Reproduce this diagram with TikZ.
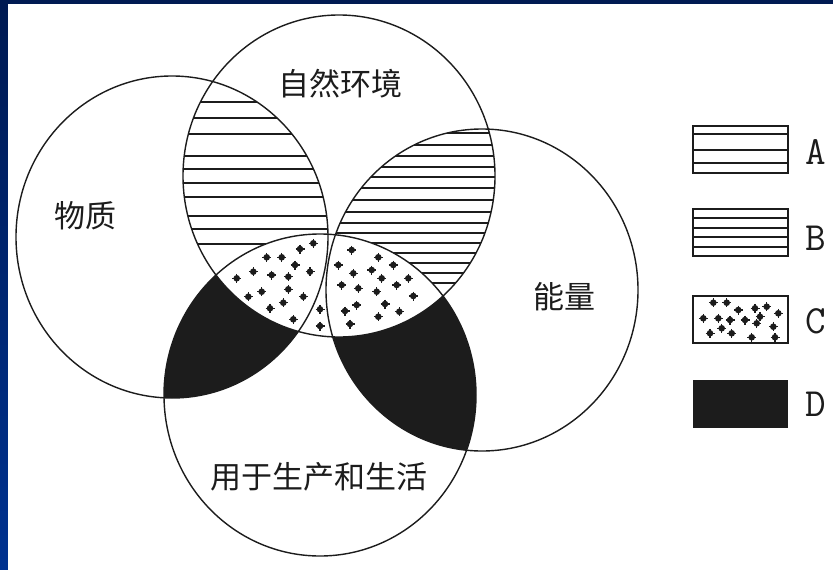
\documentclass[tikz,border=0pt]{standalone}
\usepackage{fontspec}
\newfontfamily\cjk{Noto Sans CJK SC}
\definecolor{bgtop}{HTML}{001A52}
\definecolor{bgbot}{HTML}{003290}
\definecolor{ink}{HTML}{1C1C1C}
\tikzset{
  ring/.style={draw=ink, line width=1.4pt},
  hatchline/.style={draw=ink, line width=1.6pt},
  blk/.style={fill=ink},
  lbl/.style={font=\cjk\fontsize{31}{31}\selectfont, text=ink, inner sep=0pt},
  keyletter/.style={font=\ttfamily\fontsize{40}{40}\selectfont, text=ink, inner sep=0pt},
  keybox/.style={draw=ink, line width=1.4pt},
}
\newcommand\pathM{(172,237) ellipse [x radius=156pt, y radius=161pt]}
\newcommand\pathN{(339,176) ellipse [x radius=156pt, y radius=161pt]}
\newcommand\pathE{(482,290) ellipse [x radius=156pt, y radius=161pt]}
\newcommand\pathU{(320,395) ellipse [x radius=156pt, y radius=161pt]}
\newcommand\dotmark[2]{\fill[ink] (#1,#2) circle [radius=3.3pt];
  \draw[ink, line width=1.3pt] (#1-4.5,#2) -- (#1+4.5,#2) (#1,#2-4.5) -- (#1,#2+4.5);}
\begin{document}
\begin{tikzpicture}[x=1pt,y=-1pt]
\useasboundingbox (0,0) rectangle (833,570);
\shade[top color=bgtop, bottom color=bgbot] (0,0) rectangle (833,570);
\fill[white] (8,4) rectangle (833,570);

% A : hatched M cap N
\begin{scope}
  \clip \pathM; \clip \pathN;
  \foreach \yy in {102,118,134,156,169,183,197,216,229,244}
    \draw[hatchline] (150,\yy) -- (360,\yy);
\end{scope}
% B : hatched N cap E
\begin{scope}
  \clip \pathN; \clip \pathE;
  \foreach \yy in {133,145,156,167,177,188,200,212,223,233,243,253,263,273,283}
    \draw[hatchline] (300,\yy) -- (520,\yy);
\end{scope}
% D : black M cap U, E cap U
\begin{scope}
  \clip \pathU;
  \fill[blk] \pathM;
  \fill[blk] \pathE;
\end{scope}
% C : dotted N cap U
\begin{scope}
  \clip \pathN;
  \fill[white] \pathU;
  \foreach \px/\py in {313.3/243.3,300/249,266.7/257.3,281.7/257.3,295/265,310/271.7,
     253.3/271.7,271.7/275,288.3/276.7,236.7/278.3,288.3/289.3,261.7/291.7,248.3/296.7,
     303.3/296.7,283.3/302.7,270/308.3,293.3/319.3,320/309.3,320/326,
     351.7/250,378.3/257.3,393.3/265,338.3/265,353.3/273.3,371.7/270,381.7/278.3,
     408.3/278.3,341.7/285,358.3/288.3,396.7/285,376.7/291.7,413.3/296,356.7/305,
     345/311,385/304,399.3/311.7,378.3/316.7,350/324}
    {\dotmark{\px}{\py}}
\end{scope}

% outlines
\draw[ring] \pathM;
\draw[ring] \pathN;
\draw[ring] \pathE;
\draw[ring] \pathU;

% labels
\node[lbl] (wz) at (85,216) {物质};
\node[lbl] (zr) at (340,84) {自然环境};
\node[lbl] (nl) at (564,297) {能量};
\node[lbl] (yy) at (319,477) {用于生产和生活};

% legend
\draw[keybox] (693,126) rectangle (788,173);
\foreach \yy in {134,150,163} \draw[hatchline] (693,\yy) -- (788,\yy);
\node[keyletter] (ka) at (816,152) {A};

\draw[keybox] (693,209) rectangle (788,256);
\foreach \yy in {218,228,237,247} \draw[hatchline] (693,\yy) -- (788,\yy);
\node[keyletter] (kb) at (816,238) {B};

\draw[keybox] (693,296) rectangle (788,343);
\foreach \px/\py in {713.3/302.7,726.7/302.7,703.3/318.3,718.3/318.3,738.3/310,755/308.3,
   766.7/306.7,778.3/313.3,730/320,745/320,760/316.7,756.7/323.3,721.7/328.3,731.7/333.3,
   710/333.3,773.3/326.7,751.7/337.3,775/337.3}
  {\dotmark{\px}{\py}}
\node[keyletter] (kc) at (816,321) {C};

\fill[blk] (693,380) rectangle (788,428);
\node[keyletter] (kd) at (816,404) {D};
\end{tikzpicture}
\end{document}
